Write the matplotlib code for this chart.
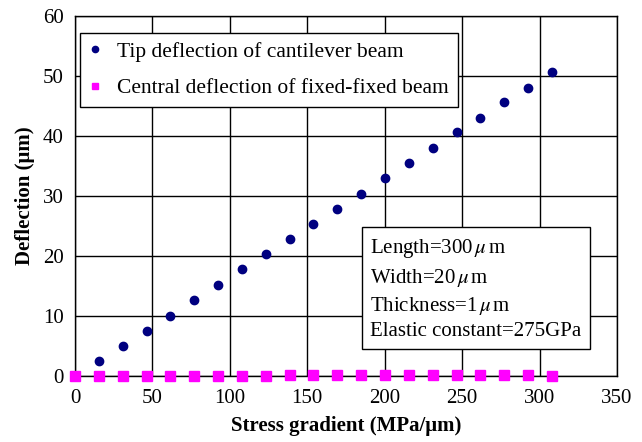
import matplotlib
matplotlib.use("Agg")
import matplotlib.pyplot as plt

# Stress gradient (MPa/um)
cantilever_x = [15.4, 30.8, 46.2, 61.6, 77.0, 92.4, 107.8, 123.2, 138.6, 154.0,
                169.4, 184.8, 200.2, 215.6, 231.0, 246.4, 261.8, 277.2, 292.6, 308.0]
# Tip deflection of cantilever beam (um)
cantilever_y = [2.5, 5.1, 7.6, 10.1, 12.7, 15.2, 17.8, 20.3, 22.9, 25.3,
                27.9, 30.4, 33.0, 35.5, 38.0, 40.6, 43.0, 45.6, 48.0, 50.6]

fixed_x = [0.0, 15.4, 30.8, 46.2, 61.6, 77.0, 92.4, 107.8, 123.2, 138.6, 154.0,
           169.4, 184.8, 200.2, 215.6, 231.0, 246.4, 261.8, 277.2, 292.6, 308.0]
# Central deflection of fixed-fixed beam (um)
fixed_y = [0.0, 0.0, 0.0, 0.0, 0.05, 0.05, 0.05, 0.05, 0.1, 0.2, 0.25,
           0.2, 0.2, 0.2, 0.2, 0.2, 0.2, 0.15, 0.15, 0.15, 0.1]

x_ticks = [0, 50, 100, 150, 200, 250, 300, 350]
y_ticks = [0, 10, 20, 30, 40, 50, 60]

plt.rcParams['font.family'] = ['Liberation Serif', 'DejaVu Serif']
plt.rcParams['mathtext.fontset'] = 'stix'

fig = plt.figure(figsize=(6.42, 4.42), dpi=100)
ax = fig.add_axes([0.1168, 0.149, 0.961 - 0.1168, 0.964 - 0.149])

ax.plot(cantilever_x, cantilever_y, linestyle='none', marker='o', markersize=6,
        color='#000080', label='Tip deflection of cantilever beam', clip_on=False, zorder=3)
ax.plot(fixed_x, fixed_y, linestyle='none', marker='s', markersize=6.5,
        color='#FF00FF', label='Central deflection of fixed-fixed beam', clip_on=False, zorder=3)

ax.set_xlim(0, 350)
ax.set_ylim(0, 60)
ax.set_xticks(x_ticks)
ax.set_yticks(y_ticks)
ax.tick_params(length=0, labelsize=15)
ax.tick_params(axis='x', pad=9)
ax.tick_params(axis='y', pad=8)
ax.grid(True, color='black', linewidth=1)
ax.set_axisbelow(True)
for s in ax.spines.values():
    s.set_color('black')
    s.set_linewidth(1)

ax.set_xlabel('Stress gradient (MPa/μm)', fontsize=15, fontweight='bold', labelpad=6)
ax.set_ylabel('Deflection (μm)', fontsize=15, fontweight='bold', labelpad=6)

leg = ax.legend(loc='upper left', bbox_to_anchor=(0.009, 0.953), fontsize=15.5,
                frameon=True, fancybox=False, edgecolor='black', framealpha=1,
                handlelength=0.6, handletextpad=0.7, borderpad=0.42, labelspacing=0.75,
                markerscale=0.75, borderaxespad=0)
leg.get_frame().set_linewidth(1)

info = ('Length=300$\\,\\mathit{\\mu}\\,$m\n'
        'Width=20$\\,\\mathit{\\mu}\\,$m\n'
        'Thickness=1$\\,\\mathit{\\mu}\\,$m\n'
        'Elastic constant=275GPa')
ax.text(0.545, 0.385, info, transform=ax.transAxes, fontsize=15, va='top', ha='left',
        linespacing=1.38,
        bbox=dict(boxstyle='square,pad=0.4', facecolor='white', edgecolor='black', linewidth=1))

fig.savefig('out.png', dpi=100)
